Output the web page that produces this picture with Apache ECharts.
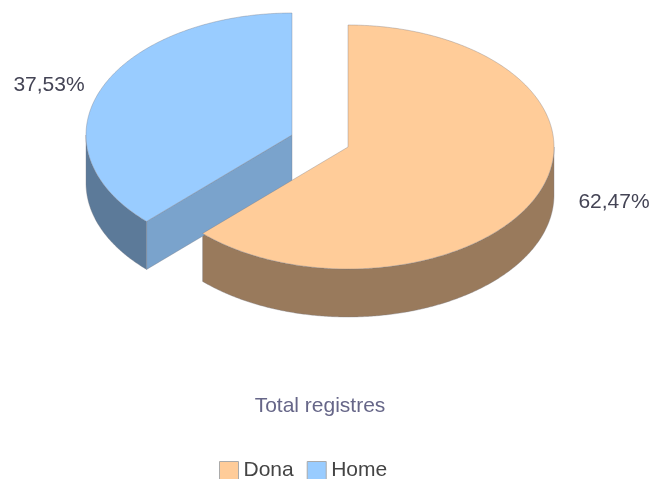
<!DOCTYPE html>
<html><head><meta charset="utf-8">
<style>html,body{margin:0;padding:0;background:#fff;overflow:hidden}#c{width:654px;height:479px;filter:blur(0.45px)}</style>
<script src="https://cdn.jsdelivr.net/npm/echarts@6/dist/echarts.min.js"></script>
</head><body><div id="c"></div>
<script>
const categories = ['Dona', 'Home'];
const values = [62.47, 37.53];
const valueLabels = ['62,47%', '37,53%'];
const titleText = 'Total registres';

const topColors = ['#ffcc99', '#99ccff'];
const wallColors = ['#997a5c', '#5c7a99'];
const faceColors = ['#997a5c', '#7aa3cc'];
const edge = 'rgba(120,120,130,0.45)';

// projection of the tilted pie
const rx = 206, ry = 122, depth = 48;
const centers = [[348, 147], [292, 135]];
const labelShift = [[40, 9, 'left'], [-17, -3, 'right']];

const total = values.reduce((a, b) => a + b, 0);
const starts = values.map((v, i) => values.slice(0, i).reduce((a, b) => a + b, 0) / total * 360);

function pt(c, deg, dy) {
  const a = deg * Math.PI / 180;
  return [c[0] + rx * Math.sin(a), c[1] - ry * Math.cos(a) + (dy || 0)];
}
function arc(c, a0, a1, dy) {
  const out = [], n = Math.max(2, Math.ceil(Math.abs(a1 - a0) * 2));
  for (let k = 0; k <= n; k++) out.push(pt(c, a0 + (a1 - a0) * k / n, dy));
  return out;
}
function poly(points, fill, z) {
  return { type: 'polygon', z2: z, shape: { points },
           style: { fill, stroke: edge, lineWidth: 0.8 } };
}
function render(i) {
  return function (params, api) {
    const c = centers[i];
    const a0 = starts[i], a1 = a0 + api.value(0) / total * 360;
    const kids = [];
    // outer wall: only the front half of the rim (90..270 degrees) is seen
    const w0 = Math.max(a0, 90), w1 = Math.min(a1, 270);
    if (w1 > w0) kids.push(poly(arc(c, w0, w1, 0).concat(arc(c, w1, w0, depth)), wallColors[i], 1));
    // cut face at the start edge, when it looks to the viewer
    if (a0 > 90 && a0 < 270) {
      const p = pt(c, a0);
      kids.push(poly([c, p, [p[0], p[1] + depth], [c[0], c[1] + depth]], faceColors[i], 2));
    }
    kids.push(poly([c].concat(arc(c, a0, a1, 0)), topColors[i], 3));
    const m = pt(c, (a0 + a1) / 2), s = labelShift[i];
    kids.push({ type: 'text', z2: 4, style: {
      x: m[0] + s[0], y: m[1] + s[1], text: valueLabels[i], align: s[2], verticalAlign: 'middle',
      fill: '#444455', font: '21px "Liberation Sans"' } });
    return { type: 'group', children: kids };
  };
}
const chart = echarts.init(document.getElementById('c'), null, { renderer: 'canvas' });
chart.setOption({
  animation: false,
  backgroundColor: '#fff',
  title: { text: titleText, left: 320, top: 396, padding: 0, textAlign: 'center',
           textStyle: { color: '#666688', fontSize: 21, fontWeight: 'normal', fontFamily: 'Liberation Sans' } },
  legend: { left: 219, top: 460, padding: 0, itemWidth: 19, itemHeight: 18, itemGap: 13,
            icon: 'rect', data: categories,
            itemStyle: { borderColor: '#aaaaaa', borderWidth: 1 },
            textStyle: { color: '#444444', fontSize: 21, fontFamily: 'Liberation Sans', padding: [0, 0, 0, 0] } },
  series: [1, 0].map(i => ({
    type: 'custom', name: categories[i], coordinateSystem: 'none', clip: false,
    itemStyle: { color: topColors[i] },
    data: [[values[i]]], renderItem: render(i)
  }))
});
</script></body></html>
